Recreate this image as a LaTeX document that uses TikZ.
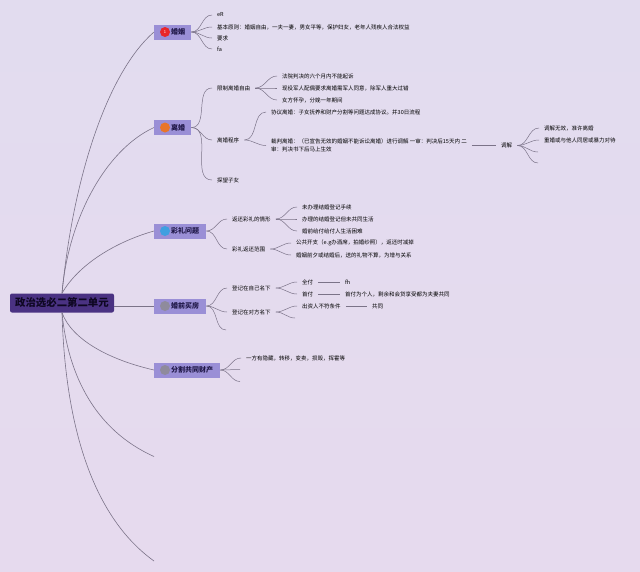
\documentclass[tikz,border=0pt]{standalone}
\usepackage{fontspec}
\setmainfont{Noto Sans CJK SC}
\definecolor{bgtop}{HTML}{E2DCEF}
\definecolor{bgbot}{HTML}{E6DAEE}
\definecolor{rootfill}{HTML}{4A3282}
\definecolor{rootink}{HTML}{0E0722}
\definecolor{topicfill}{HTML}{9A8FD6}
\definecolor{topicink}{HTML}{1E1646}
\definecolor{wire}{HTML}{7B7388}
\definecolor{iconred}{HTML}{E8262A}
\definecolor{iconorange}{HTML}{E8752A}
\definecolor{iconblue}{HTML}{3F9FE0}
\definecolor{icongray}{HTML}{8F8B9C}
\tikzset{
  rootbox/.style={fill=rootfill,text=rootink,rounded corners=2pt,minimum width=104pt,minimum height=19pt,inner sep=0pt,font=\fontsize{10.4pt}{12pt}\selectfont\bfseries},
  topicbox/.style={fill=topicfill,text=topicink,minimum height=15pt,inner sep=0pt,anchor=west,align=left,font=\fontsize{7pt}{8pt}\selectfont\bfseries},
  icon/.style={circle,minimum size=10pt,inner sep=0pt},
  leaf/.style={anchor=west,inner xsep=5pt,inner ysep=0pt,text=black,align=left,font=\fontsize{5.5pt}{8pt}\selectfont},
  wireline/.style={draw=wire,line width=0.5pt},
  trunk/.style={draw=wire,line width=0.6pt}
}
\begin{document}
\begin{tikzpicture}[x=1pt,y=-1pt]
  \useasboundingbox (0,0) rectangle (640,571);
  \shade[top color=bgtop,bottom color=bgbot] (0,0) rectangle (640,571);

  % Root and topics
  \node[rootbox] (root) at (62,303) {政治选必二第二单元};
  \node[topicbox,text width=37pt] (marriage) at (154,32) {\hspace*{17pt}婚姻};
  \node[topicbox,text width=37pt] (divorce) at (154,127.5) {\hspace*{17pt}离婚};
  \node[topicbox,text width=52pt] (gift) at (154,231) {\hspace*{17pt}彩礼问题};
  \node[topicbox,text width=52pt] (house) at (154,306) {\hspace*{17pt}婚前买房};
  \node[topicbox,text width=66pt] (split) at (154,370) {\hspace*{17pt}分割共同财产};
  \coordinate (free1) at (154,456.5);
  \coordinate (free2) at (154,561);

  % Icons
  \node[icon,fill=iconred,text=white,font=\fontsize{4pt}{4pt}\selectfont] (icon1) at (165,32) {1};
  \node[icon,fill=iconorange] (icon2) at (165,127.5) {};
  \node[icon,fill=iconblue] (icon3) at (165,231) {};
  \node[icon,fill=icongray] (icon4) at (165,306) {};
  \node[icon,fill=icongray] (icon5) at (165,370) {};

  % Trunks from the root
  \draw[trunk] (root.north) .. controls (74,170) and (110,70) .. (marriage.west);
  \draw[trunk] (root.north) .. controls (68,220) and (105,150) .. (divorce.west);
  \draw[trunk] (root.north) .. controls (78,265) and (115,242) .. (gift.west);
  \draw[trunk] (house.west -| root.east) -- (house.west);
  \draw[trunk] (root.south) .. controls (72,340) and (110,360) .. (split.west);
  \draw[trunk] (root.south) .. controls (68,375) and (95,430) .. (free1);
  \draw[trunk] (root.south) .. controls (65,420) and (90,515) .. (free2);

  % Marriage
  \node[leaf] (m1) at (212,15) {eR};
  \node[leaf] (m2) at (212,27) {基本原则：婚姻自由，一夫一妻，男女平等，保护妇女，老年人残疾人合法权益};
  \node[leaf] (m3) at (212,38) {要求};
  \node[leaf] (m4) at (212,49) {fa};
  \foreach \n in {m1,m2,m3,m4}
    \draw[wireline] (marriage.east) to[out=0,in=180] (\n.west);

  % Divorce
  \node[leaf] (d1) at (212,88) {限制离婚自由};
  \node[leaf] (d2) at (212,140) {离婚程序};
  \node[leaf] (d3) at (212,180) {探望子女};
  \foreach \n in {d1,d2,d3}
    \draw[wireline] (divorce.east) to[out=0,in=180] (\n.west);
  \node[leaf] (d11) at (277,76) {法院判决的六个月内不能起诉};
  \node[leaf] (d12) at (277,88) {现役军人配偶要求离婚需军人同意，除军人重大过错};
  \node[leaf] (d13) at (277,100) {女方怀孕，分娩一年期间};
  \foreach \n in {d11,d12,d13}
    \draw[wireline] (d1.east) to[out=0,in=180] (\n.west);
  \node[leaf] (d21) at (266,112) {协议离婚：子女抚养和财产分割等问题达成协议。并30日流程};
  \node[leaf] (d22) at (266,145.5) {裁判离婚：（已宣告无效的婚姻不能诉讼离婚）进行调解 一审：判决后15天内 二\\审：判决书下后马上生效};
  \draw[wireline] (d2.east) to[out=0,in=180] (d21.west);
  \draw[wireline] (d2.east) to[out=0,in=180] (d22.west);
  \node[leaf] (med) at (496,145.5) {调解};
  \draw[wireline] (d22.east) -- (med.west);
  \node[leaf] (med1) at (539,128) {调解无效，准许离婚};
  \node[leaf] (med2) at (539,140) {重婚或与他人同居或暴力对待};
  \coordinate (med3) at (538,152);
  \coordinate (med4) at (538,163);
  \draw[wireline] (med.east) to[out=0,in=180] (med1.west);
  \draw[wireline] (med.east) to[out=0,in=180] (med2.west);
  \draw[wireline] (med.east) to[out=0,in=180] (med3);
  \draw[wireline] (med.east) to[out=0,in=180] (med4);

  % Bride price
  \node[leaf] (g1) at (227,219) {返还彩礼的情形};
  \node[leaf] (g2) at (227,249) {彩礼返还范围};
  \draw[wireline] (gift.east) to[out=0,in=180] (g1.west);
  \draw[wireline] (gift.east) to[out=0,in=180] (g2.west);
  \node[leaf] (g11) at (297,207) {未办理结婚登记手续};
  \node[leaf] (g12) at (297,219) {办理的结婚登记但未共同生活};
  \node[leaf] (g13) at (297,231) {婚前给付给付人生活困难};
  \foreach \n in {g11,g12,g13}
    \draw[wireline] (g1.east) to[out=0,in=180] (\n.west);
  \node[leaf] (g21) at (291,243) {公共开支（e.g办酒席，拍婚纱照），返还时减掉};
  \node[leaf] (g22) at (291,255) {婚姻前夕或结婚后，送的礼物不算，为增与关系};
  \draw[wireline] (g2.east) to[out=0,in=180] (g21.west);
  \draw[wireline] (g2.east) to[out=0,in=180] (g22.west);

  % House
  \node[leaf] (h1) at (227,288) {登记在自己名下};
  \node[leaf] (h2) at (227,312) {登记在对方名下};
  \coordinate (h3) at (226,330);
  \draw[wireline] (house.east) to[out=0,in=180] (h1.west);
  \draw[wireline] (house.east) to[out=0,in=180] (h2.west);
  \draw[wireline] (house.east) to[out=0,in=180] (h3);
  \node[leaf] (h11) at (297,282) {全付};
  \node[leaf] (h12) at (297,294) {首付};
  \draw[wireline] (h1.east) to[out=0,in=180] (h11.west);
  \draw[wireline] (h1.east) to[out=0,in=180] (h12.west);
  \node[leaf] (h111) at (340,282) {fh};
  \node[leaf] (h121) at (340,294) {首付为个人，剩余和会贷享受都为夫妻共同};
  \draw[wireline] (h11.east) -- (h111.west);
  \draw[wireline] (h12.east) -- (h121.west);
  \node[leaf] (h21) at (297,306) {出资人不符条件};
  \coordinate (h22) at (295,318);
  \draw[wireline] (h2.east) to[out=0,in=180] (h21.west);
  \draw[wireline] (h2.east) to[out=0,in=180] (h22);
  \node[leaf] (h211) at (367,306) {共同};
  \draw[wireline] (h21.east) -- (h211.west);

  % Split
  \node[leaf] (s1) at (241,358) {一方有隐藏，转移，变卖，损毁，挥霍等};
  \coordinate (s2) at (240,369.5);
  \coordinate (s3) at (240,381.5);
  \draw[wireline] (split.east) to[out=0,in=180] (s1.west);
  \draw[wireline] (split.east) to[out=0,in=180] (s2);
  \draw[wireline] (split.east) to[out=0,in=180] (s3);
\end{tikzpicture}
\end{document}
